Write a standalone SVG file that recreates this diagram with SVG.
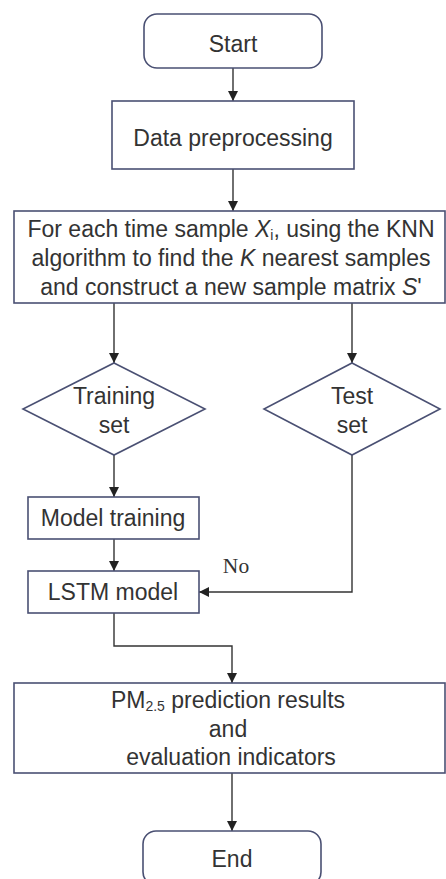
<svg xmlns="http://www.w3.org/2000/svg" width="446" height="879" viewBox="0 0 446 879">
<defs>
<marker id="ah" viewBox="0 0 10 10" refX="10" refY="5" markerWidth="10" markerHeight="10" markerUnits="userSpaceOnUse" orient="auto">
<path d="M0,0 L10,5 L0,10 z" fill="#222"/>
</marker>
<style>
.box{fill:#fff;stroke:#4a5073;stroke-width:1.6}
.t{font-family:"Liberation Sans",Arial,sans-serif;font-size:23px;fill:#333;text-anchor:middle}
.c{fill:none;stroke:#333;stroke-width:1.4;marker-end:url(#ah)}
</style>
</defs>
<rect width="446" height="879" fill="#fff"/>
<g id="connectors">
<path class="c" d="M233,68 V101"/>
<path class="c" d="M233,169 V211"/>
<path class="c" d="M114,303 V363"/>
<path class="c" d="M352,303 V363"/>
<path class="c" d="M114,455 V497"/>
<path class="c" d="M114,539 V571"/>
<path class="c" d="M352,455 V592 H199"/>
<path class="c" d="M114,613 V646 H232 V683"/>
<path class="c" d="M232,773 V831"/>
<text x="236" y="573" style="font-family:'Liberation Serif','Times New Roman',serif;font-size:21.5px;fill:#333;text-anchor:middle">No</text>
</g>
<g id="start">
<rect class="box" x="144" y="14" width="178" height="54" rx="13"/>
<text class="t" x="233" y="52">Start</text>
</g>
<g id="preprocess">
<rect class="box" x="112" y="101" width="242" height="68"/>
<text class="t" x="233" y="146">Data preprocessing</text>
</g>
<g id="knn">
<rect class="box" x="14" y="211" width="431" height="92"/>
<text class="t" x="231" y="237">For each time sample <tspan font-style="italic">X</tspan><tspan font-size="14" dy="3">i</tspan><tspan dy="-3">, using the KNN</tspan></text>
<text class="t" x="231" y="266">algorithm to find the <tspan font-style="italic">K</tspan> nearest samples</text>
<text class="t" x="231" y="295">and construct a new sample matrix <tspan font-style="italic">S</tspan>'</text>
</g>
<g id="training">
<polygon class="box" points="114,363 205,409 114,455 23,409"/>
<text class="t" x="114" y="404">Training</text>
<text class="t" x="114" y="433">set</text>
</g>
<g id="test">
<polygon class="box" points="352,363 440,409 352,455 264,409"/>
<text class="t" x="352" y="404">Test</text>
<text class="t" x="352" y="433">set</text>
</g>
<g id="model-training">
<rect class="box" x="28" y="497" width="171" height="42"/>
<text class="t" x="113" y="526">Model training</text>
</g>
<g id="lstm">
<rect class="box" x="28" y="571" width="171" height="42"/>
<text class="t" x="113" y="600">LSTM model</text>
</g>
<g id="results">
<rect class="box" x="14" y="683" width="431" height="90"/>
<text class="t" x="228" y="708">PM<tspan font-size="14" dy="3">2.5</tspan><tspan dy="-3"> prediction results</tspan></text>
<text class="t" x="228" y="737">and</text>
<text class="t" x="231" y="765">evaluation indicators</text>
</g>
<g id="end">
<rect class="box" x="143" y="831" width="178" height="54" rx="13"/>
<text class="t" x="232" y="867">End</text>
</g>
</svg>
